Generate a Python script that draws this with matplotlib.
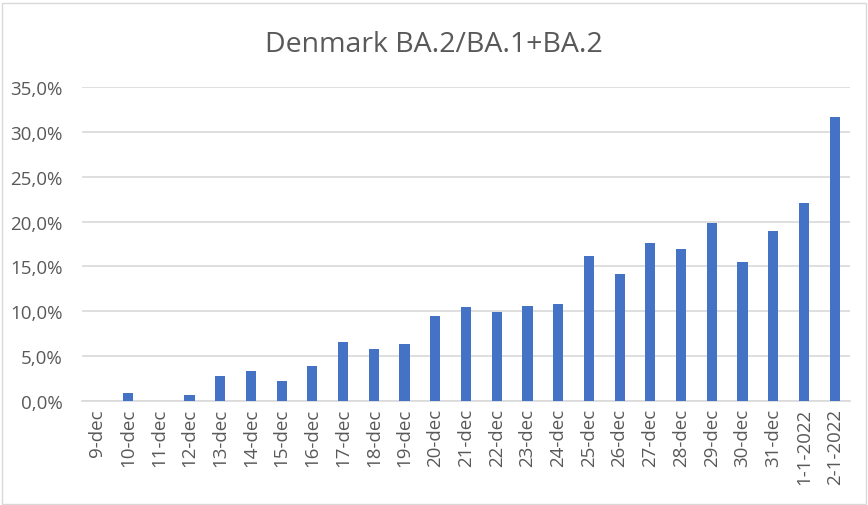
import numpy as np
import matplotlib.pyplot as plt
from matplotlib.ticker import FuncFormatter

dates = ['9-dec', '10-dec', '11-dec', '12-dec', '13-dec', '14-dec', '15-dec',
         '16-dec', '17-dec', '18-dec', '19-dec', '20-dec', '21-dec', '22-dec',
         '23-dec', '24-dec', '25-dec', '26-dec', '27-dec', '28-dec', '29-dec',
         '30-dec', '31-dec', '1-1-2022', '2-1-2022']
share = [0.0, 0.93, 0.0, 0.71, 2.82, 3.38, 2.27, 3.94, 6.61, 5.83, 6.39,
         9.51, 10.48, 9.96, 10.59, 10.81, 16.16, 14.19, 17.61, 16.94, 19.87,
         15.49, 18.95, 22.07, 31.65]

plt.rcParams['font.family'] = ['Open Sans', 'DejaVu Sans']
grey = '#595959'

fig = plt.figure(figsize=(8.68, 5.06), dpi=100)
ax = fig.add_axes([82 / 868, 1 - 402 / 506, 768 / 868, 314 / 506])

x = np.arange(len(dates))
ax.bar(x, share, width=0.33, color='#4472C4', zorder=3)

ax.set_xlim(-0.5, len(dates) - 0.5)
ax.set_ylim(0, 35)
ax.set_yticks(np.arange(0, 36, 5))
ax.yaxis.set_major_formatter(FuncFormatter(lambda v, p: f'{v:.1f}%'.replace('.', ',')))
ax.set_xticks(x)
ax.set_xticklabels(dates, rotation=90)
ax.grid(axis='y', color='#d9d9d9', linewidth=1.2, zorder=0)
for s in ['top', 'right', 'left']:
    ax.spines[s].set_visible(False)
ax.spines['bottom'].set_color('#d9d9d9')
ax.spines['bottom'].set_linewidth(1.2)
ax.tick_params(length=0, colors=grey)
ax.tick_params(axis='y', labelsize=13.5, pad=14)
ax.tick_params(axis='x', labelsize=13.5, pad=5)

fig.text(0.5, 1 - 45 / 506, 'Denmark BA.2/BA.1+BA.2', ha='center', va='center',
         fontsize=20.5, color=grey)

fig.patches.append(plt.Rectangle((0.002, 0.002), 0.996, 0.991, transform=fig.transFigure,
                                 fill=False, edgecolor='#d9d9d9', linewidth=1))

fig.savefig('out.png', dpi=100)
